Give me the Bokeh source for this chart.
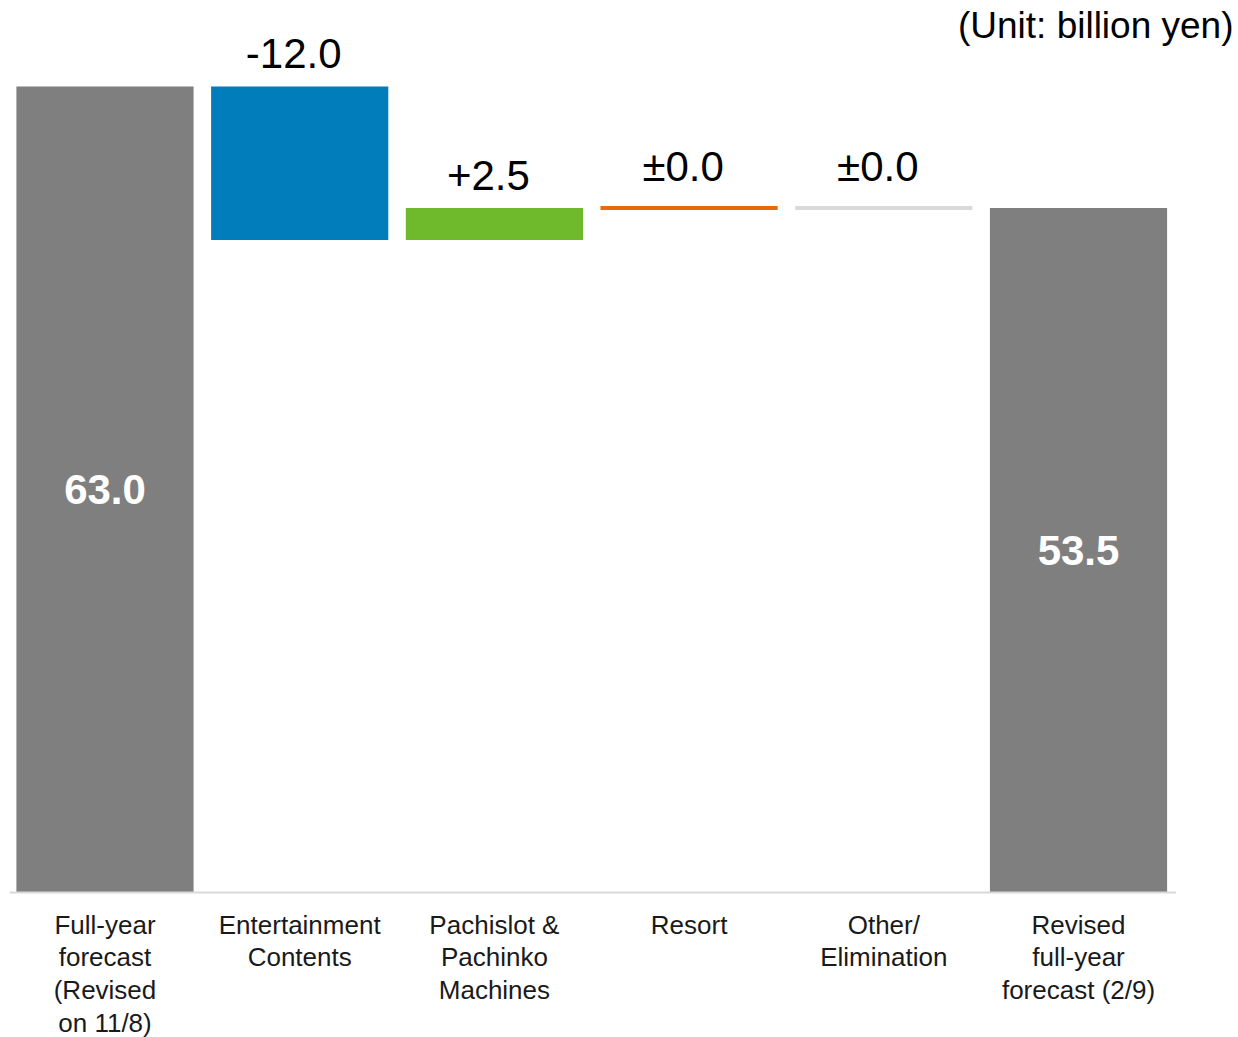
from bokeh.plotting import figure
from bokeh.models import Range1d, ColumnDataSource
from bokeh.core.properties import value
from bokeh.embed import file_html
from bokeh.resources import INLINE

# ---- data ----
categories = [
    "Full-year\nforecast\n(Revised\non 11/8)",
    "Entertainment\nContents",
    "Pachislot &\nPachinko\nMachines",
    "Resort",
    "Other/\nElimination",
    "Revised\nfull-year\nforecast (2/9)",
]
start_value = 63.0
changes = [-12.0, 2.5, 0.0, 0.0]
end_value = 53.5
change_labels = ["-12.0", "+2.5", "\u00b10.0", "\u00b10.0"]
total_labels = ["63.0", "53.5"]
change_colors = ["#017DBB", "#6FB92C", "#E8690C", "#D9D9D9"]
total_color = "#7F7F7F"
unit_text = "(Unit: billion yen)"

FONT = value("Liberation Sans")
BAR_W = 0.91

p = figure(width=1238, height=1037,
           x_range=Range1d(-0.5367, 5.8217), y_range=Range1d(-11.333, 69.72),
           output_backend="svg", toolbar_location=None,
           x_axis_location=None, y_axis_location=None, min_border=0)
p.grid.visible = False
p.outline_line_color = None
p.background_fill_color = "white"

n = len(categories)
xs = list(range(n))

# totals
tot_src = ColumnDataSource(dict(x=[xs[0], xs[-1]], top=[start_value, end_value],
                                mid=[start_value / 2, end_value / 2], label=total_labels))
p.vbar(x="x", top="top", bottom=0, width=BAR_W, source=tot_src,
       fill_color=total_color, line_color=None)
p.text(x="x", y="mid", text="label", source=tot_src, text_font=FONT,
       text_font_size="42px", text_font_style="bold", text_color="white",
       text_align="center", text_baseline="middle")

# changes
level = start_value
bx, bb, bt, bc, lx, ly, ll = [], [], [], [], [], [], []
zx, zy, zc = [], [], []
for i, (ch, lab, col) in enumerate(zip(changes, change_labels, change_colors)):
    new = level + ch
    x = xs[i + 1]
    if ch != 0:
        bx.append(x); bb.append(min(level, new)); bt.append(max(level, new)); bc.append(col)
    else:
        zx.append(x); zy.append(new); zc.append(col)
    lx.append(x); ly.append(max(level, new)); ll.append(lab)
    level = new

p.vbar(x=bx, bottom=bb, top=bt, width=BAR_W, fill_color=bc, line_color=None)
p.segment(x0=[x - BAR_W / 2 for x in zx], x1=[x + BAR_W / 2 for x in zx],
          y0=zy, y1=zy, line_color=zc, line_width=4)
p.text(x=lx, y=ly, text=ll, text_font=FONT, text_font_size="42px",
       text_color="black", text_align="center", text_baseline="bottom",
       x_offset=-6, y_offset=-18)

# baseline
p.segment(x0=[-0.49], x1=[5.5], y0=[0], y1=[0], line_color="#D9D9D9", line_width=2)

# category labels
p.text(x=xs, y=[0] * n, text=categories, text_font=FONT, text_font_size="26px",
       text_color="#1a1a1a", text_align="center", text_baseline="top",
       text_line_height=1.09, y_offset=17)

# unit
p.text(x=[5.796], y=[67.8], text=[unit_text], text_font=FONT, text_font_size="37px",
       text_color="black", text_align="right", text_baseline="middle")

open("out.html", "w").write(file_html(p, INLINE))
